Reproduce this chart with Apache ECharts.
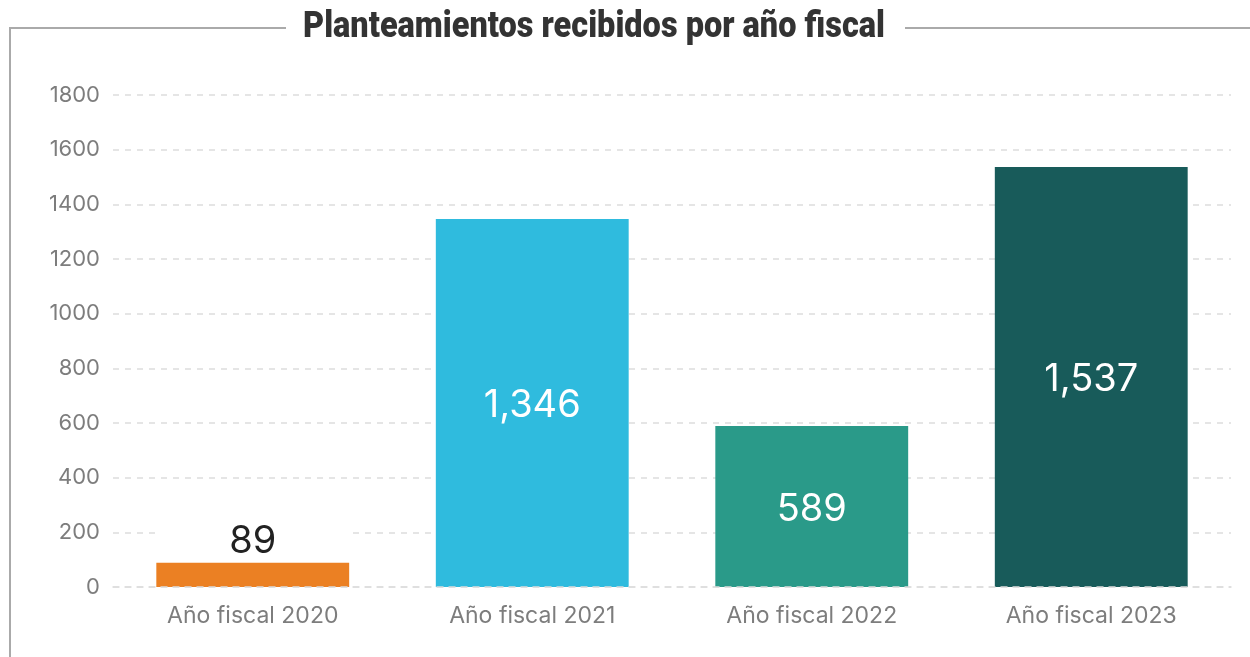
<!DOCTYPE html>
<html>
<head>
<meta charset="utf-8">
<script src="https://cdn.jsdelivr.net/npm/echarts@6/dist/echarts.min.js"></script>
<style>
html,body{margin:0;padding:0;background:#fff;}
#chart{width:1250px;height:657px;}
</style>
</head>
<body>
<div id="chart"></div>
<script>
const titleText = 'Planteamientos recibidos por año fiscal';
const categories = ['Año fiscal 2020', 'Año fiscal 2021', 'Año fiscal 2022', 'Año fiscal 2023'];
const values = [89, 1346, 589, 1537];
const yTicks = { min: 0, max: 1800, interval: 200 };

const barColors = ['#EB8023', '#2FBBDE', '#2A9A89', '#185B5A'];

const chart = echarts.init(document.getElementById('chart'));
const fmt = v => Number(v).toLocaleString('en-US');

// condensed title: Roboto heavy, horizontally compressed to the target width
const titleFont = '900 36px Roboto';
const mctx = document.createElement('canvas').getContext('2d');
mctx.font = titleFont;
const titleW = mctx.measureText(titleText).width;
const targetW = 582;
const sx = targetW / titleW;

const seriesData = values.map((v, i) => {
  const item = { value: v, itemStyle: { color: barColors[i] } };
  if (i === 0) {
    item.label = {
      position: 'top',
      distance: 5,
      color: '#222',
      backgroundColor: '#fff',
      width: 193,
      align: 'center',
      padding: [2, 0, 0, 0]
    };
  }
  return item;
});

chart.setOption({
  animation: false,
  backgroundColor: '#fff',
  graphic: [
    { type: 'polyline', shape: { points: [[286, 28], [10, 28], [10, 657]] }, style: { stroke: '#aaa', lineWidth: 2, fill: null } },
    { type: 'line', shape: { x1: 905, y1: 28, x2: 1250, y2: 28 }, style: { stroke: '#aaa', lineWidth: 2 } },
    {
      type: 'text',
      x: 594, y: 28,
      scaleX: sx,
      style: {
        text: titleText,
        font: titleFont,
        fill: '#333',
        textAlign: 'center',
        textVerticalAlign: 'middle'
      }
    }
  ],
  grid: { left: 113, right: 19, top: 95, bottom: 70 },
  xAxis: {
    type: 'category',
    data: categories,
    z: 5,
    axisTick: { show: false },
    axisLine: { show: true, lineStyle: { type: [6, 6], color: '#ddd', width: 1.5 } },
    axisLabel: { color: '#7d7d7d', fontSize: 23, fontFamily: 'Inter', margin: 18 }
  },
  yAxis: {
    type: 'value',
    min: yTicks.min,
    max: yTicks.max,
    interval: yTicks.interval,
    axisLine: { show: false },
    axisTick: { show: false },
    axisLabel: { color: '#7d7d7d', fontSize: 22, fontFamily: 'Inter', margin: 13, formatter: v => String(v) },
    splitLine: { lineStyle: { type: [6, 6], color: '#ddd', width: 1.5 } }
  },
  series: [{
    type: 'bar',
    data: seriesData,
    barCategoryGap: '31%',
    label: {
      show: true,
      position: 'inside',
      offset: [0, 3],
      color: '#fff',
      fontSize: 38,
      fontFamily: 'Inter',
      formatter: p => fmt(p.value)
    }
  }]
});
</script>
</body>
</html>
